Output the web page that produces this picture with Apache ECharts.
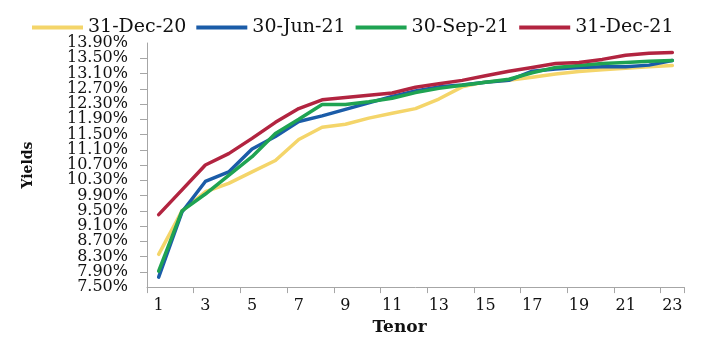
<!DOCTYPE html>
<html>
<head>
<meta charset="utf-8">
<script src="https://cdn.jsdelivr.net/npm/echarts@6/dist/echarts.min.js"></script>
<style>
html,body{margin:0;padding:0;background:#fff;}
#chart{width:710px;height:341px;}
</style>
</head>
<body>
<div id="chart"></div>
<script>
const tenors = ['1','2','3','4','5','6','7','8','9','10','11','12','13','14','15','16','17','18','19','20','21','22','23'];
const seriesNames = ['31-Dec-20', '30-Jun-21', '30-Sep-21', '31-Dec-21'];
const dec20 = [8.36, 9.50, 10.00, 10.22, 10.52, 10.82, 11.37, 11.69, 11.77, 11.93, 12.06, 12.18, 12.43, 12.75, 12.88, 12.92, 13.00, 13.09, 13.15, 13.20, 13.24, 13.28, 13.31];
const jun21 = [7.76, 9.47, 10.27, 10.52, 11.12, 11.45, 11.84, 11.99, 12.16, 12.33, 12.50, 12.64, 12.75, 12.80, 12.87, 12.92, 13.16, 13.22, 13.26, 13.28, 13.28, 13.32, 13.44];
const sep21 = [7.92, 9.50, 9.94, 10.43, 10.92, 11.53, 11.90, 12.29, 12.29, 12.36, 12.45, 12.60, 12.71, 12.79, 12.87, 12.95, 13.12, 13.26, 13.31, 13.36, 13.39, 13.42, 13.44];
const dec21 = [9.40, 10.05, 10.70, 11.00, 11.40, 11.82, 12.18, 12.41, 12.47, 12.53, 12.59, 12.74, 12.83, 12.92, 13.04, 13.16, 13.26, 13.36, 13.39, 13.47, 13.58, 13.63, 13.65];
const yMin = 7.5, yMax = 13.9, yStep = 0.4;
const colors = ['#F4D56A', '#1B5CA8', '#1FA352', '#B22440'];

const FONT = '"DejaVu Serif", "Liberation Serif", serif';
const allData = [dec20, jun21, sep21, dec21];
const fmt = v => v.toFixed(2) + '%';
const isEnd = v => Math.abs(v - yMin) < 1e-6 || Math.abs(v - yMax) < 1e-6;
const labelStyle = { margin: 19, fontFamily: FONT, fontSize: 16, color: '#111' };

const chart = echarts.init(document.getElementById('chart'));
chart.setOption({
  animation: false,
  color: colors,
  legend: {
    data: seriesNames,
    left: 27,
    top: 13,
    icon: 'rect',
    itemWidth: 51,
    itemHeight: 4,
    itemGap: 10,
    textStyle: { fontFamily: FONT, fontSize: 19, color: '#111' }
  },
  grid: { left: 147, right: 26, top: 43, bottom: 36, containLabel: false },
  xAxis: {
    type: 'category',
    data: tenors,
    boundaryGap: true,
    name: 'Tenor',
    nameLocation: 'middle',
    nameGap: 15,
    nameTextStyle: { fontFamily: FONT, fontWeight: 'bold', fontSize: 17, color: '#111', padding: [0, 32, 0, 0] },
    axisLine: { lineStyle: { color: '#A6A6A6', width: 1 } },
    axisTick: { show: true, interval: 1, length: 6, lineStyle: { color: '#A6A6A6' } },
    axisLabel: { interval: 1, margin: 11, fontFamily: FONT, fontSize: 16, color: '#111' },
    splitLine: { show: false }
  },
  yAxis: [{
    type: 'value',
    min: yMin,
    max: yMax,
    interval: yStep,
    position: 'left',
    name: 'Yields',
    nameLocation: 'middle',
    nameGap: 112,
    nameTextStyle: { fontFamily: FONT, fontWeight: 'bold', fontSize: 14, color: '#111' },
    axisLine: { show: true, lineStyle: { color: '#A6A6A6', width: 1 } },
    axisTick: { show: true, length: 7, lineStyle: { color: '#A6A6A6' } },
    axisLabel: Object.assign({ showMinLabel: false, showMaxLabel: false, formatter: fmt }, labelStyle),
    splitLine: { show: false }
  }, {
    type: 'value',
    min: yMin,
    max: yMax,
    interval: yStep,
    position: 'left',
    offset: 0,
    axisLine: { show: false },
    axisTick: { show: false },
    axisLabel: Object.assign({ showMinLabel: true, showMaxLabel: true, formatter: v => isEnd(v) ? fmt(v) : '' }, labelStyle),
    splitLine: { show: false }
  }],
  series: seriesNames.map((n, i) => ({
    name: n,
    type: 'line',
    yAxisIndex: 0,
    data: allData[i],
    symbol: 'none',
    lineStyle: { width: 3.5, color: colors[i], cap: 'round', join: 'round' },
    itemStyle: { color: colors[i] }
  }))
});
</script>
</body>
</html>
